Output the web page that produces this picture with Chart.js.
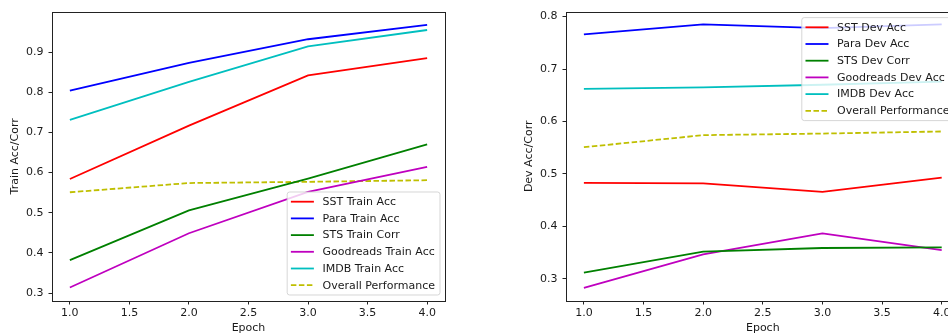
<!DOCTYPE html>
<html>
<head>
<meta charset="utf-8">
<script src="https://cdn.jsdelivr.net/npm/chart.js@4/dist/chart.umd.min.js"></script>
<style>
  html, body { margin: 0; padding: 0; background: #fff; }
  body { width: 948px; height: 335px; overflow: hidden; position: relative; }
  #c1 { position: absolute; left: 0; top: 0; }
  #c2 { position: absolute; left: 474px; top: 0; }
</style>
</head>
<body>
<canvas id="c1" width="474" height="335"></canvas>
<canvas id="c2" width="515" height="335"></canvas>
<script>
// ---------- data ----------
const epochs = [1, 2, 3, 4];
const xTicks = [1.0, 1.5, 2.0, 2.5, 3.0, 3.5, 4.0];
const trainYTicks = [0.3, 0.4, 0.5, 0.6, 0.7, 0.8, 0.9];
const devYTicks = [0.3, 0.4, 0.5, 0.6, 0.7, 0.8];

const trainLabels = ["SST Train Acc", "Para Train Acc", "STS Train Corr", "Goodreads Train Acc", "IMDB Train Acc", "Overall Performance"];
const sstTrain = [0.584, 0.717, 0.842, 0.885];
const paraTrain = [0.804, 0.873, 0.932, 0.968];
const stsTrain = [0.382, 0.506, 0.585, 0.670];
const goodreadsTrain = [0.314, 0.449, 0.552, 0.614];
const imdbTrain = [0.731, 0.826, 0.914, 0.955];
const overallTrain = [0.551, 0.574, 0.577, 0.581];

const devLabels = ["SST Dev Acc", "Para Dev Acc", "STS Dev Corr", "Goodreads Dev Acc", "IMDB Dev Acc", "Overall Performance"];
const sstDev = [0.483, 0.482, 0.466, 0.493];
const paraDev = [0.766, 0.785, 0.778, 0.785];
const stsDev = [0.312, 0.352, 0.359, 0.360];
const goodreadsDev = [0.283, 0.347, 0.387, 0.355];
const imdbDev = [0.662, 0.665, 0.670, 0.676];
const overallDev = [0.551, 0.574, 0.577, 0.581];

// ---------- styles ----------
const colors = ["#ff0000", "#0000ff", "#008000", "#bf00bf", "#00bfbf", "#bfbf00"];
const dashes = [[], [], [], [], [], [5.5, 2.5]];
const FONT = "'DejaVu Sans', sans-serif";
const FSIZE = 11;
const TXT = "#1a1a1a";
const LW = 1.8;

function buildDatasets(labels, series) {
  return series.map((vals, i) => ({
    label: labels[i],
    data: vals.map((v, j) => ({ x: epochs[j], y: v })),
    borderColor: colors[i],
    backgroundColor: colors[i],
    borderWidth: LW,
    borderDash: dashes[i],
    pointRadius: 0,
    tension: 0,
    fill: false
  }));
}

const framePlugin = {
  id: 'frame',
  afterDatasetsDraw(chart) {
    const a = chart.chartArea, ctx = chart.ctx;
    ctx.save();
    ctx.strokeStyle = '#222';
    ctx.lineWidth = 1;
    ctx.strokeRect(Math.round(a.left) + 0.5, Math.round(a.top) + 0.5,
                   Math.round(a.right - a.left), Math.round(a.bottom - a.top));
    ctx.restore();
  }
};

const mplLegend = {
  id: 'mplLegend',
  afterDraw(chart, args, opts) {
    const ctx = chart.ctx, a = chart.chartArea;
    ctx.save();
    ctx.font = FSIZE + "px " + FONT;
    const ds = chart.data.datasets;
    let maxW = 0;
    ds.forEach(d => { maxW = Math.max(maxW, ctx.measureText(d.label).width); });
    const padL = 3.7, handleLen = 23, gap = 8.6, padR = 5;
    const rowH = 16.7, padT = 9.7;
    const w = padL + handleLen + gap + maxW + padR;
    const h = 103;
    let x, y;
    if (opts.corner === 'lower right') { x = a.right - 5 - w; y = a.bottom - 6 - h; }
    else { x = a.right - 5 - w; y = a.top + 6; }
    const r = 2.5;
    ctx.beginPath();
    ctx.moveTo(x + r, y);
    ctx.lineTo(x + w - r, y); ctx.quadraticCurveTo(x + w, y, x + w, y + r);
    ctx.lineTo(x + w, y + h - r); ctx.quadraticCurveTo(x + w, y + h, x + w - r, y + h);
    ctx.lineTo(x + r, y + h); ctx.quadraticCurveTo(x, y + h, x, y + h - r);
    ctx.lineTo(x, y + r); ctx.quadraticCurveTo(x, y, x + r, y);
    ctx.closePath();
    ctx.fillStyle = 'rgba(255,255,255,0.8)';
    ctx.fill();
    ctx.strokeStyle = 'rgba(204,204,204,0.8)';
    ctx.lineWidth = 1;
    ctx.stroke();
    ds.forEach((d, i) => {
      const cy = y + padT + i * rowH;
      ctx.beginPath();
      ctx.setLineDash(d.borderDash || []);
      ctx.strokeStyle = d.borderColor;
      ctx.lineWidth = LW;
      ctx.moveTo(x + padL, cy);
      ctx.lineTo(x + padL + handleLen, cy);
      ctx.stroke();
      ctx.setLineDash([]);
      ctx.fillStyle = TXT;
      ctx.textBaseline = 'middle';
      ctx.textAlign = 'left';
      ctx.fillText(d.label, x + padL + handleLen + gap, cy + 0.5);
    });
    ctx.restore();
  }
};

function makeChart(id, labels, series, yTicks, yMin, yMax, yTitle, padLeft, padRight, corner) {
  return new Chart(document.getElementById(id), {
    type: 'line',
    data: { datasets: buildDatasets(labels, series) },
    options: {
      responsive: false,
      animation: false,
      devicePixelRatio: 1,
      layout: { padding: { left: padLeft, right: padRight, top: 8, bottom: 0 } },
      plugins: {
        legend: { display: false },
        tooltip: { enabled: false },
        mplLegend: { corner: corner }
      },
      scales: {
        x: {
          type: 'linear',
          min: 0.85, max: 4.15,
          afterBuildTicks: s => { s.ticks = xTicks.map(v => ({ value: v })); },
          afterFit: s => { s.height = 34; },
          grid: { drawOnChartArea: false, drawTicks: true, tickLength: 3.5, color: '#222', tickColor: '#222' },
          border: { display: false },
          ticks: { padding: 2, color: TXT, font: { family: FONT, size: FSIZE }, callback: v => Number(v).toFixed(1), maxRotation: 0 },
          title: { display: true, text: 'Epoch', color: TXT, font: { family: FONT, size: FSIZE }, padding: { top: 0, bottom: 0 } }
        },
        y: {
          type: 'linear',
          min: yMin, max: yMax,
          afterBuildTicks: s => { s.ticks = yTicks.map(v => ({ value: v })); },
          afterFit: s => { s.width = 47.6; },
          grid: { drawOnChartArea: false, drawTicks: true, tickLength: 3.5, color: '#222', tickColor: '#222' },
          border: { display: false },
          ticks: { padding: 5, color: TXT, font: { family: FONT, size: FSIZE }, callback: v => Number(v).toFixed(1) },
          title: { display: true, text: yTitle, color: TXT, font: { family: FONT, size: FSIZE }, padding: { top: 4, bottom: 4 } }
        }
      }
    },
    plugins: [framePlugin, mplLegend]
  });
}

makeChart('c1', trainLabels,
  [sstTrain, paraTrain, stsTrain, goodreadsTrain, imdbTrain, overallTrain],
  trainYTicks, 0.2803, 1.0008, 'Train Acc/Corr', 4.4, 29, 'lower right');

makeChart('c2', devLabels,
  [sstDev, paraDev, stsDev, goodreadsDev, imdbDev, overallDev],
  devYTicks, 0.258, 0.8094, 'Dev Acc/Corr', 44.4, 29.4, 'upper right');
</script>
</body>
</html>
